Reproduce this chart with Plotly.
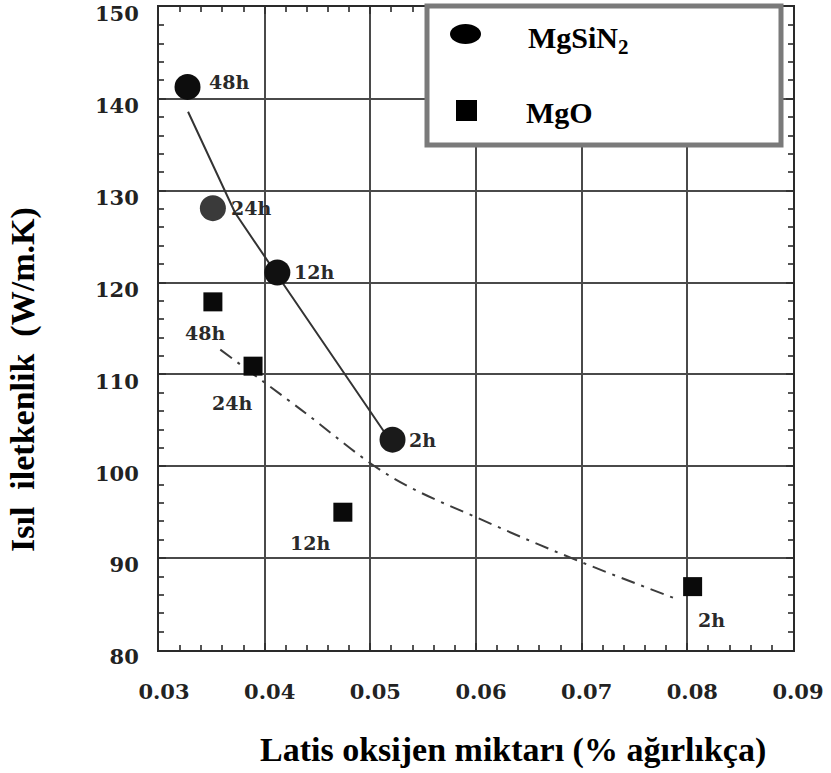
import plotly.graph_objects as go

# --- data -------------------------------------------------------------
# lattice oxygen content (wt %) and thermal conductivity (W/m.K)
mgsin2_x = [0.0327, 0.0351, 0.0412, 0.0521]
mgsin2_y = [141.3, 128.1, 121.1, 102.9]
mgsin2_lbl = ["48h", "24h", "12h", "2h"]

mgo_x = [0.0351, 0.0389, 0.0474, 0.0805]
mgo_y = [117.9, 110.9, 95.0, 86.9]
mgo_lbl = ["48h", "24h", "12h", "2h"]

# trend curves
mgsin2_fit_x = [0.03275, 0.0372, 0.0412, 0.0514]
mgsin2_fit_y = [138.6, 127.6, 120.8, 103.6]
mgo_fit_x = [0.0358, 0.0434, 0.0519, 0.0611, 0.0699, 0.0791]
mgo_fit_y = [112.7, 106.2, 98.9, 93.9, 89.6, 85.5]

x_ticks = [0.03, 0.04, 0.05, 0.06, 0.07, 0.08, 0.09]
x_ticktext = ["0.03", "0.04", "0.05", "0.06", "0.07", "0.08", "0.09"]
y_ticks = [80, 90, 100, 110, 120, 130, 140, 150]
y_ticktext = ["80", "90", "100", "110", "120", "130", "140", "150"]

# --- layout geometry (pixels) -----------------------------------------
W, H = 831, 773
L, R, T, B = 159, 793, 7, 650


def px(xp):
    return (xp - L) / (R - L)


def py(yp):
    return (B - yp) / (B - T)


SERIF = "Liberation Serif, Times New Roman, serif"
TICKFONT = "DejaVu Serif, serif"

fig = go.Figure()

fig.add_trace(go.Scatter(
    x=mgsin2_fit_x, y=mgsin2_fit_y, mode="lines",
    line=dict(color="#333333", width=2),
    hoverinfo="skip", showlegend=False))
fig.add_trace(go.Scatter(
    x=mgo_fit_x, y=mgo_fit_y, mode="lines",
    line=dict(color="#3c3c3c", width=2, shape="spline", dash="14px,7px,3px,7px"),
    hoverinfo="skip", showlegend=False))

fig.add_trace(go.Scatter(
    x=mgsin2_x, y=mgsin2_y, mode="markers", name="MgSiN2",
    marker=dict(symbol="circle", size=26,
                color=["#0d0d0d", "#3a3a3a", "#111111", "#1a1a1a"],
                line=dict(width=0)),
    showlegend=False))
fig.add_trace(go.Scatter(
    x=mgo_x, y=mgo_y, mode="markers", name="MgO",
    marker=dict(symbol="square", size=19, color="#0a0a0a", line=dict(width=0)),
    showlegend=False))

# point labels
lblfont = dict(family=TICKFONT, size=19, color="#2a2a2a", weight="bold")
sin_off = [(19, 5, "left"), (16, 0, "left"), (15, 0, "left"), (14, 0, "left")]
for xv, yv, t, (dx, dy, anc) in zip(mgsin2_x, mgsin2_y, mgsin2_lbl, sin_off):
    fig.add_annotation(x=xv, y=yv, text=t, showarrow=False, xanchor=anc,
                       yanchor="middle", xshift=dx, yshift=dy, font=lblfont)
mgo_off = [(-8, -31, "center"), (-21, -37, "center"), (-33, -31, "center"), (3, -33, "left")]
for xv, yv, t, (dx, dy, anc) in zip(mgo_x, mgo_y, mgo_lbl, mgo_off):
    fig.add_annotation(x=xv, y=yv, text=t, showarrow=False, xanchor=anc,
                       yanchor="middle", xshift=dx, yshift=dy, font=lblfont)

# legend box
shapes = [
    dict(type="rect", xref="paper", yref="paper",
         x0=px(427), x1=px(781), y0=py(145), y1=py(6),
         line=dict(color="#7a7a7a", width=5), fillcolor="white", layer="above"),
    dict(type="circle", xref="paper", yref="paper",
         x0=px(450), x1=px(481), y0=py(44), y1=py(24),
         line=dict(width=0), fillcolor="black", layer="above"),
    dict(type="rect", xref="paper", yref="paper",
         x0=px(456), x1=px(477), y0=py(121), y1=py(100),
         line=dict(width=0), fillcolor="black", layer="above"),
]
legfont = dict(family=SERIF, size=30, color="black", weight="bold")
fig.add_annotation(xref="paper", yref="paper", x=px(526), y=py(40),
                   text="MgSiN<sub>2</sub>", showarrow=False,
                   xanchor="left", yanchor="middle", font=legfont)
fig.add_annotation(xref="paper", yref="paper", x=px(524), y=py(112),
                   text="MgO", showarrow=False,
                   xanchor="left", yanchor="middle", font=legfont)

# axis titles
fig.add_annotation(xref="paper", yref="paper", x=px(513), y=py(750),
                   text="Latis oksijen miktarı (% ağırlıkça)", showarrow=False,
                   xanchor="center", yanchor="middle",
                   font=dict(family=SERIF, size=34, color="black", weight="bold"))
fig.add_annotation(xref="paper", yref="paper", x=px(23), y=py(380),
                   text="Isıl  iletkenlik  (W/m.K)", showarrow=False, textangle=-90,
                   xanchor="center", yanchor="middle",
                   font=dict(family=SERIF, size=34, color="black", weight="bold"))

axis_common = dict(
    showgrid=True, gridcolor="#4a4a4a", gridwidth=2,
    showline=True, linecolor="#2a2a2a", linewidth=2, mirror="ticks",
    ticks="inside", ticklen=7, tickwidth=2, tickcolor="#333333",
    tickfont=dict(family=TICKFONT, size=21, color="#222222", weight="bold"),
    zeroline=False, ticklabeloverflow="allow", automargin=False,
)

fig.update_xaxes(range=[0.03, 0.09], tickvals=x_ticks, ticktext=x_ticktext,
                 minor=dict(dtick=0.002, ticks="inside", ticklen=5, tickwidth=2,
                            tickcolor="#555555", showgrid=False),
                 ticklabelstandoff=22, ticklabelshift=5, **axis_common)
fig.update_yaxes(range=[80, 150], tickvals=y_ticks, ticktext=y_ticktext,
                 minor=dict(dtick=2, ticks="inside", ticklen=5, tickwidth=2,
                            tickcolor="#555555", showgrid=False),
                 ticklabelstandoff=14, ticklabelshift=7, **axis_common)

fig.update_layout(
    width=W, height=H,
    margin=dict(l=L, r=W - R, t=T, b=H - B, pad=0, autoexpand=False),
    paper_bgcolor="white", plot_bgcolor="white",
    shapes=shapes, showlegend=False,
)

fig.write_html("out.html")
